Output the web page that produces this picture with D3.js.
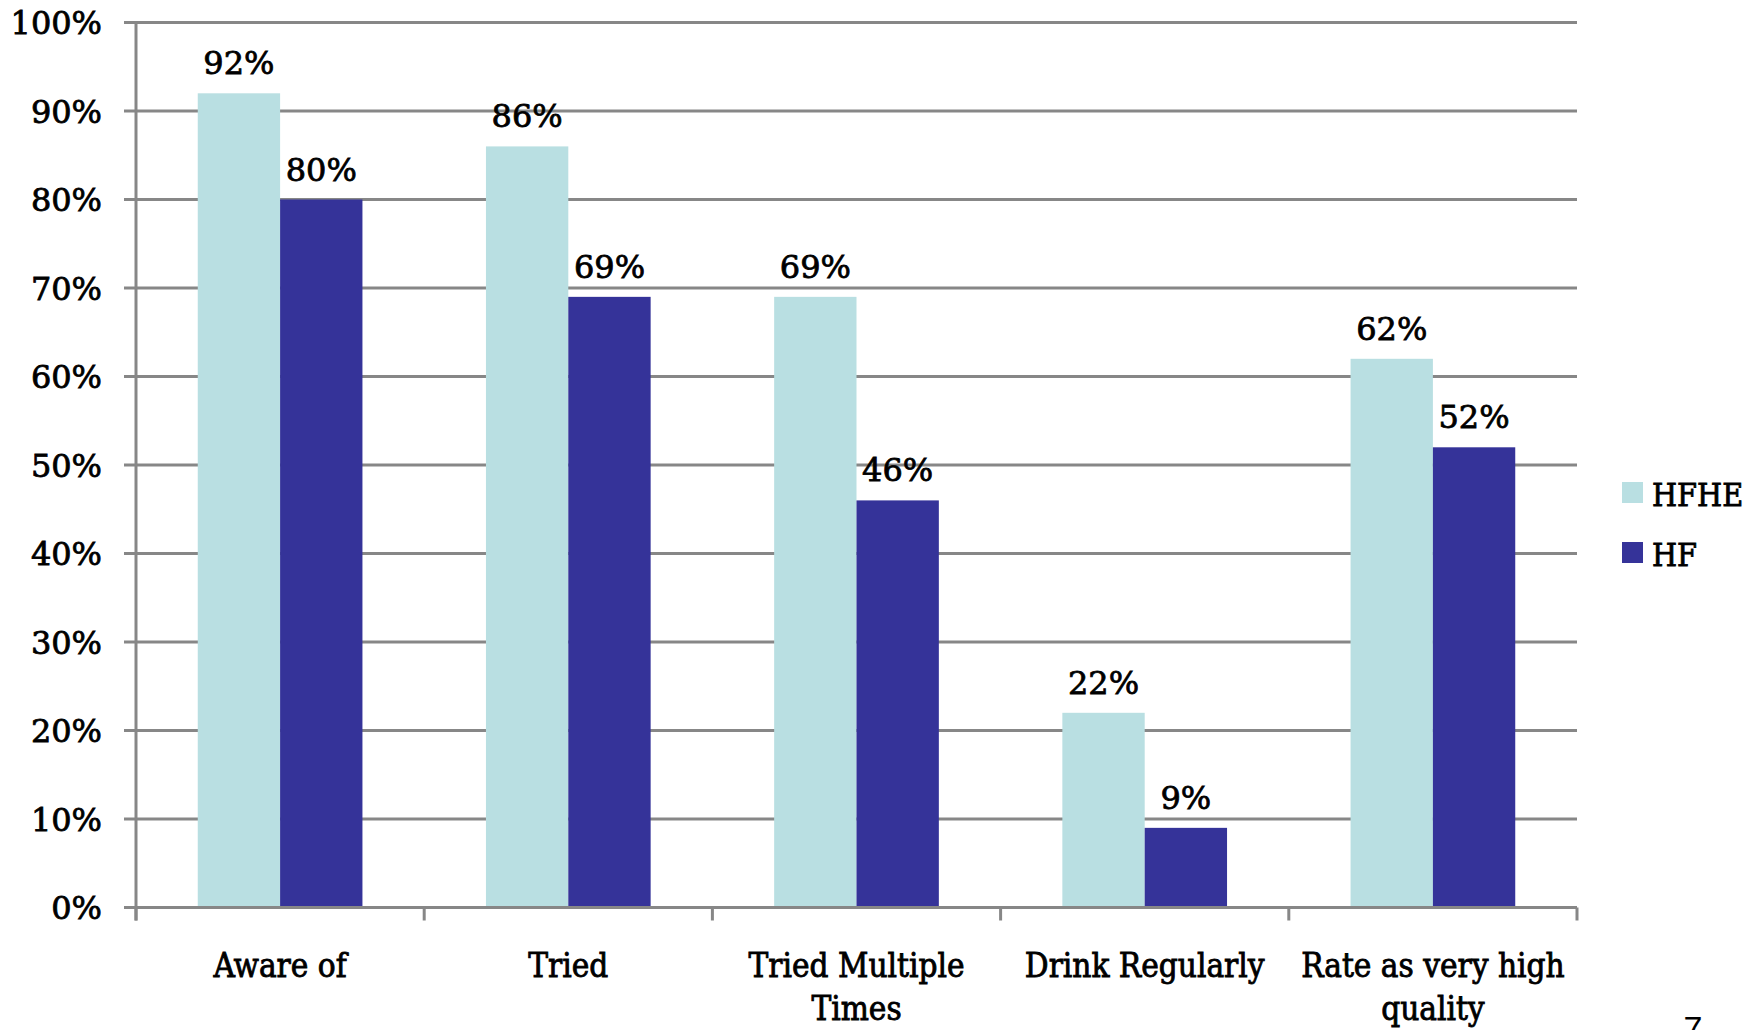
<!DOCTYPE html>
<html>
<head>
<meta charset="utf-8">
<script src="https://cdn.jsdelivr.net/npm/d3@7"></script>
<style>
  html, body { margin: 0; padding: 0; background: #ffffff; overflow: hidden; }
  svg { display: block; }
  text { font-family: "DejaVu Serif Condensed", "DejaVu Serif", "Liberation Serif", serif; fill: #000; stroke: #000; stroke-width: 0.8px; }
  text.num { font-family: "DejaVu Serif", "Liberation Serif", serif; }
</style>
</head>
<body>
<svg id="chart" width="1760" height="1030"></svg>
<script>
// Survey results by stage of the funnel
const categories = [["Aware of"], ["Tried"], ["Tried Multiple", "Times"], ["Drink Regularly"], ["Rate as very high", "quality"]];
const seriesNames = ["HFHE", "HF"];
const hfheValues = [92, 86, 69, 22, 62];
const hfValues = [80, 69, 46, 9, 52];
const yTicks = [0, 10, 20, 30, 40, 50, 60, 70, 80, 90, 100];
const seriesColors = ["#b9dfe2", "#353399"];

const svg = d3.select("#chart");
const plotLeft = 136, plotRight = 1577, plotTop = 22.5, plotBottom = 907.5;

const x = d3.scaleBand().domain(d3.range(categories.length)).range([plotLeft, plotRight]).paddingInner(0).paddingOuter(0);
const y = d3.scaleLinear().domain([0, 100]).range([plotBottom, plotTop]);

// Bars take 2 of (2 + 1.5) slot widths: Excel-style gap of 150%
const barW = x.bandwidth() / 3.5;
const series = [hfheValues, hfValues];

const grid = svg.append("g");
// horizontal gridlines with short outward ticks on the value axis
grid.selectAll("line.h").data(yTicks).join("line")
  .attr("x1", plotLeft - 12).attr("x2", plotRight)
  .attr("y1", d => y(d)).attr("y2", d => y(d))
  .attr("stroke", "#878787").attr("stroke-width", 3);

// value axis
grid.append("line").attr("x1", plotLeft).attr("x2", plotLeft).attr("y1", plotTop).attr("y2", plotBottom + 13)
  .attr("stroke", "#878787").attr("stroke-width", 3);

// category tick marks at band boundaries
grid.selectAll("line.c").data(d3.range(categories.length + 1)).join("line")
  .attr("x1", i => plotLeft + i * x.bandwidth()).attr("x2", i => plotLeft + i * x.bandwidth())
  .attr("y1", plotBottom).attr("y2", plotBottom + 13)
  .attr("stroke", "#878787").attr("stroke-width", 3);

// y tick labels
svg.append("g").selectAll("text").data(yTicks).join("text")
  .attr("class", "num")
  .attr("x", 102).attr("y", d => y(d) + 11.5)
  .attr("text-anchor", "end")
  .style("font-size", "32px")
  .text(d => d + "%");

// bars
series.forEach((vals, s) => {
  svg.append("g").selectAll("rect").data(vals).join("rect")
    .attr("x", (d, i) => x(i) + barW * 0.75 + s * barW)
    .attr("y", d => y(d))
    .attr("width", barW)
    .attr("height", d => y(0) - y(d))
    .attr("fill", seriesColors[s]);

  svg.append("g").selectAll("text").data(vals).join("text")
    .attr("class", "num")
    .attr("x", (d, i) => x(i) + barW * 0.75 + s * barW + barW / 2)
    .attr("y", d => y(d) - 19)
    .attr("text-anchor", "middle")
    .style("font-size", "32px")
    .text(d => d + "%");
});

// redraw the baseline over the bars
svg.append("line").attr("x1", plotLeft - 12).attr("x2", plotRight).attr("y1", plotBottom).attr("y2", plotBottom)
  .attr("stroke", "#878787").attr("stroke-width", 3);

// category labels
const catG = svg.append("g");
categories.forEach((lines, i) => {
  const t = catG.append("text")
    .attr("x", x(i) + x.bandwidth() / 2)
    .attr("y", 977)
    .attr("text-anchor", "middle")
    .style("font-size", "33px");
  lines.forEach((ln, j) => {
    t.append("tspan").attr("x", x(i) + x.bandwidth() / 2).attr("dy", j === 0 ? 0 : 43).text(ln);
  });
});

// legend
const legend = svg.append("g").attr("transform", "translate(1622, 482)");
seriesNames.forEach((name, s) => {
  legend.append("rect").attr("x", 0).attr("y", s * 60).attr("width", 21).attr("height", 21)
    .attr("fill", seriesColors[s]);
  legend.append("text").attr("x", 30).attr("y", s * 60 + 24)
    .style("font-size", "32px").text(name);
});

// page number
svg.append("text").attr("x", 1693).attr("y", 1040).attr("text-anchor", "middle")
  .style("font-family", "Liberation Sans, sans-serif").style("stroke-width", "0").style("font-size", "34px").text("7");
</script>
</body>
</html>
